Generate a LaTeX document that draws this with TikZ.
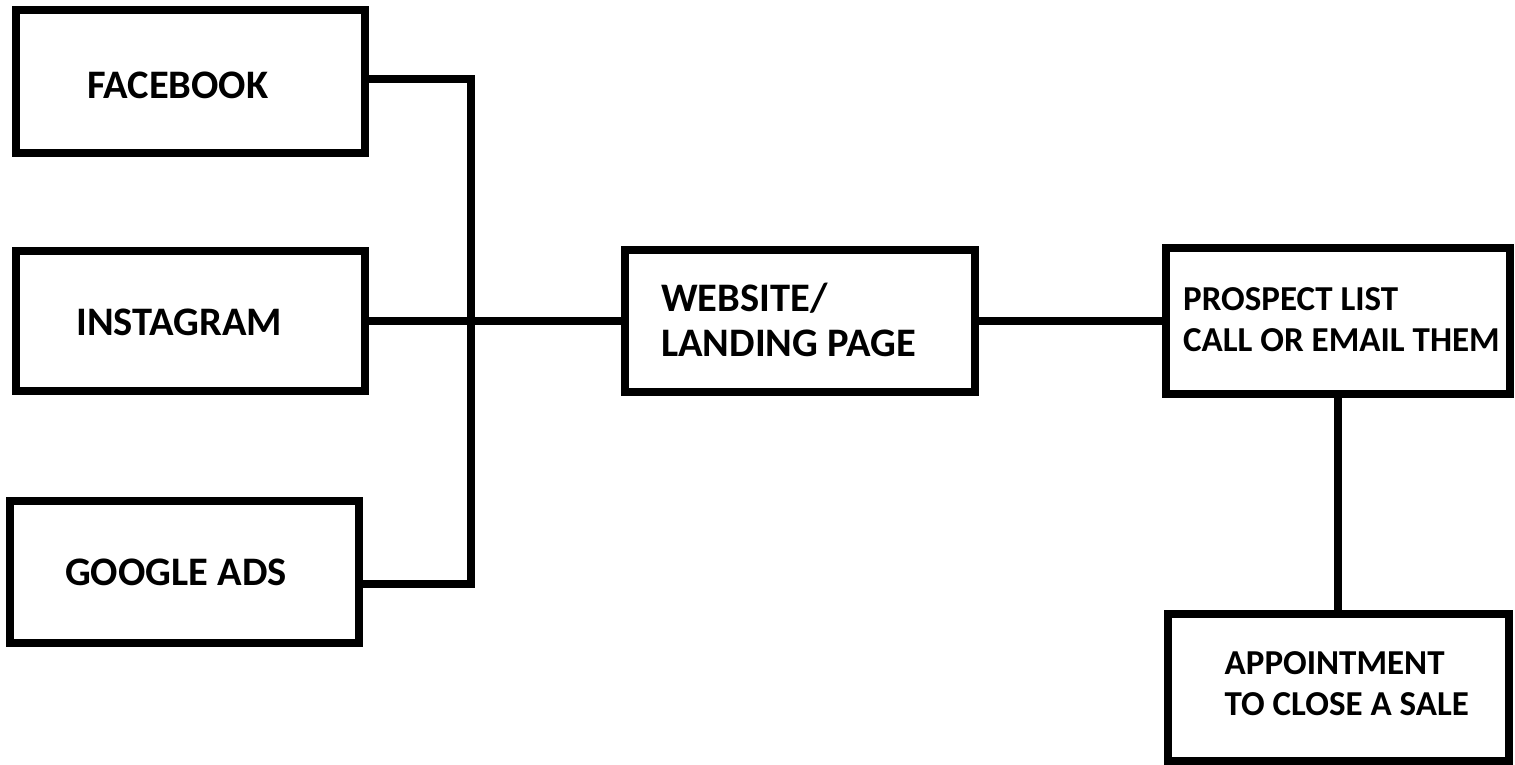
\documentclass[tikz,border=0pt]{standalone}
\usepackage{fontspec}
\setmainfont{Carlito}
\usetikzlibrary{positioning}
\tikzset{
  stage_box/.style={draw, line width=8pt, inner sep=0pt},
  big_text/.style={inner sep=0pt, align=left, font=\bfseries\fontsize{40.5}{45}\selectfont},
  small_text/.style={inner sep=0pt, align=left, font=\bfseries\fontsize{35}{41}\selectfont},
  link/.style={line width=8pt}
}
\begin{document}
\begin{tikzpicture}[x=1pt, y=-1pt]
\path[use as bounding box, fill=white] (0,0) rectangle (1515,765);
\node[stage_box, minimum width=349pt, minimum height=143pt] (box_facebook) at (190.5,81.5) {};
\node[stage_box, minimum width=349pt, minimum height=140pt] (box_instagram) at (190.5,321) {};
\node[stage_box, minimum width=349pt, minimum height=142pt] (box_google) at (184.5,572) {};
\node[stage_box, minimum width=350pt, minimum height=142pt] (box_website) at (800,321) {};
\node[stage_box, minimum width=344pt, minimum height=146pt] (box_prospect) at (1338,321) {};
\node[stage_box, minimum width=341pt, minimum height=147pt] (box_appointment) at (1338,687.5) {};
\node[big_text, right=75pt of box_facebook.west, yshift=-3.5pt] (text_facebook) {FACEBOOK};
\node[big_text, right=64pt of box_instagram.west, yshift=-1pt] (text_instagram) {INSTAGRAM};
\node[big_text, right=59pt of box_google.west] (text_google) {GOOGLE ADS};
\node[big_text, right=40pt of box_website.west, yshift=1pt] (text_website) {WEBSITE/\\LANDING PAGE};
\node[small_text, right=21pt of box_prospect.west, yshift=1pt] (text_prospect) {PROSPECT LIST\\CALL OR EMAIL THEM};
\node[small_text, right=61pt of box_appointment.west, yshift=4pt] (text_appointment) {APPOINTMENT\\TO CLOSE A SALE};
\coordinate (hub) at (471,321);
\draw[link] ([yshift=2.5pt]box_facebook.east) -| (hub);
\draw[link] ([yshift=-12pt]box_google.east) -| (hub);
\draw[link] (box_instagram.east) -- (box_website.west);
\draw[link] (box_website.east) -- (box_prospect.west);
\draw[link] (box_prospect.south) -- (box_appointment.north);
\end{tikzpicture}
\end{document}
